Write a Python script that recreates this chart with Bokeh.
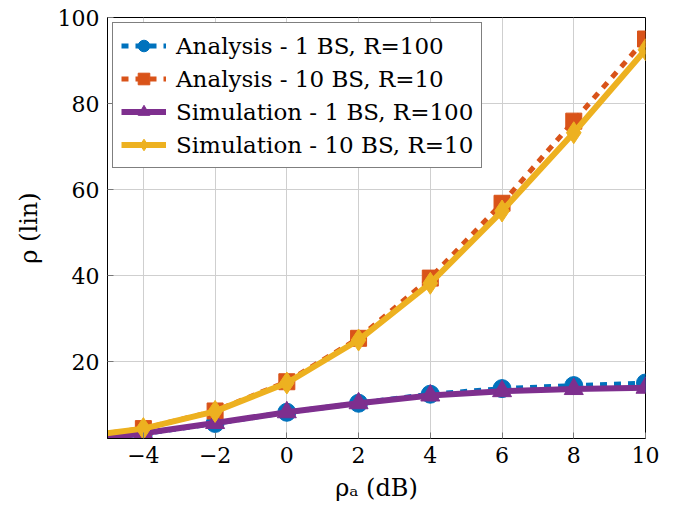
from bokeh.plotting import figure
from bokeh.models import (FixedTicker, Range1d, Legend, LegendItem, CustomJSTickFormatter)
from bokeh.embed import file_html
from bokeh.resources import INLINE

# Data
rho_a_db = [-6, -4, -2, 0, 2, 4, 6, 8, 10]
analysis_1bs = [1.1, 3.2, 5.6, 8.2, 10.3, 12.4, 13.7, 14.4, 15.0]
analysis_10bs = [2.2, 4.4, 8.5, 15.3, 25.4, 39.4, 56.8, 75.9, 95.0]
simulation_1bs = [1.2, 3.3, 5.7, 8.2, 10.3, 12.1, 13.1, 13.6, 13.9]
simulation_10bs = [2.3, 4.4, 8.4, 15.0, 25.0, 38.2, 55.0, 73.2, 92.5]
labels = ["Analysis - 1 BS, R=100", "Analysis - 10 BS, R=10",
          "Simulation - 1 BS, R=100", "Simulation - 10 BS, R=10"]
x_ticks = [-4, -2, 0, 2, 4, 6, 8, 10]
y_ticks = [20, 40, 60, 80, 100]

BLUE = "#0072BD"
ORANGE = "#D95319"
PURPLE = "#7E2F8E"
YELLOW = "#EDB120"
FONT = "DejaVu Serif"

p = figure(width=684, height=512, output_backend="svg", toolbar_location=None,
           x_range=Range1d(-5, 10), y_range=Range1d(2.1, 100))
p.min_border_left = 107
p.min_border_right = 39
p.min_border_top = 17
p.min_border_bottom = 74
p.background_fill_color = "white"
p.border_fill_color = "white"
p.outline_line_color = "black"
p.outline_line_width = 1

for ax in (p.xaxis[0], p.yaxis[0]):
    ax.major_label_text_font = FONT
    ax.major_label_text_font_size = "22px"
    ax.major_label_text_color = "black"
    ax.axis_label_text_font = FONT
    ax.axis_label_text_font_size = "24px"
    ax.axis_label_text_font_style = "normal"
    ax.axis_label_text_color = "black"
    ax.axis_line_color = "black"
    ax.major_tick_in = 6
    ax.major_tick_out = 0
    ax.major_tick_line_color = "#777777"
    ax.minor_tick_line_color = None
    ax.formatter = CustomJSTickFormatter(
        code="return tick < 0 ? '\\u2212' + Math.abs(tick) : String(tick);")

p.xaxis[0].ticker = FixedTicker(ticks=x_ticks)
p.yaxis[0].ticker = FixedTicker(ticks=y_ticks)
p.xaxis[0].axis_label = "ρₐ (dB)"
p.yaxis[0].axis_label = "ρ (lin)"
p.xaxis[0].major_label_standoff = 8
p.yaxis[0].major_label_standoff = 8
p.xaxis[0].axis_label_standoff = 8
p.yaxis[0].axis_label_standoff = 12

p.xgrid.ticker = FixedTicker(ticks=x_ticks)
p.ygrid.ticker = FixedTicker(ticks=y_ticks)
p.grid.grid_line_color = "#cfcfcf"
p.grid.grid_line_width = 1

lw = 5
l1 = p.line(rho_a_db, analysis_1bs, line_color=BLUE, line_width=lw, line_dash="7 7")
m1 = p.scatter(rho_a_db, analysis_1bs, marker="circle", size=18,
               fill_color=BLUE, line_color=BLUE)
l2 = p.line(rho_a_db, analysis_10bs, line_color=ORANGE, line_width=lw, line_dash="7 7")
m2 = p.scatter(rho_a_db, analysis_10bs, marker="square", size=16,
               fill_color=ORANGE, line_color=ORANGE)
l3 = p.line(rho_a_db, simulation_1bs, line_color=PURPLE, line_width=lw + 1)
m3 = p.scatter(rho_a_db, simulation_1bs, marker="triangle", size=19,
               fill_color=PURPLE, line_color=PURPLE)
l4 = p.line(rho_a_db, simulation_10bs, line_color=YELLOW, line_width=lw + 1)
m4 = p.scatter(rho_a_db, simulation_10bs, marker="diamond", size=22,
               fill_color=YELLOW, line_color=YELLOW)

legend = Legend(items=[
    LegendItem(label=labels[0], renderers=[l1, m1]),
    LegendItem(label=labels[1], renderers=[l2, m2]),
    LegendItem(label=labels[2], renderers=[l3, m3]),
    LegendItem(label=labels[3], renderers=[l4, m4]),
], location="top_left")
legend.margin = 5
legend.padding = 8
legend.spacing = 4
legend.glyph_width = 45
legend.glyph_height = 29
legend.label_standoff = 10
legend.label_text_font = FONT
legend.label_text_font_size = "23px"
legend.label_text_color = "black"
legend.label_height = 29
legend.border_line_color = "black"
legend.border_line_width = 1
legend.background_fill_color = "white"
legend.background_fill_alpha = 1.0
p.add_layout(legend, "center")

open("out.html", "w").write(file_html(p, INLINE))
